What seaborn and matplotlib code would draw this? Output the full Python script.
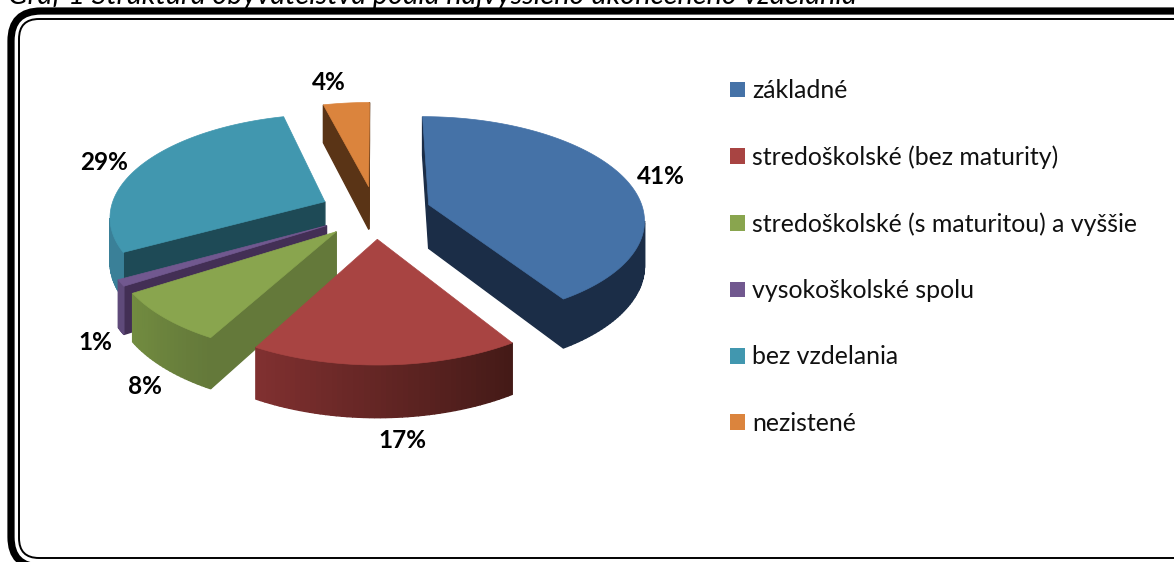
import numpy as np
import matplotlib
matplotlib.use('Agg')
import matplotlib.pyplot as plt
from matplotlib.patches import FancyBboxPatch, Patch
import seaborn as sns

# --- DATA ---
categories = ['základné', 'stredoškolské (bez maturity)', 'stredoškolské (s maturitou) a vyššie',
              'vysokoškolské spolu', 'bez vzdelania', 'nezistené']
shares = [41, 17, 8, 1, 29, 4]
title = 'Graf 1 Štruktúra obyvateľstva podľa najvyššieho ukončeného vzdelania'

# --- STYLE ---
colors = ['#4572A7', '#A84442', '#89A54E', '#71588F', '#4197AF', '#DB843D']
side_colors = ['#1B2D47', '#44191A', '#64793A', '#432F55', '#1E4A56', '#5A3416']
# arc shading runs from the right end of the visible arc to its left end
arc_colors = [('#1B2D47', '#1B2D47'), ('#441A17', '#803030'), ('#64793A', '#728C40'),
              ('#5F4A7A', '#5F4A7A'), ('#3A8098', '#3A8098'), ('#5A3416', '#5A3416')]
draw_order = [5, 4, 3, 2, 0, 1]
label_pos = [(661, 176), (402, 440), (145, 387), (95, 343), (104, 163), (329, 83)]

# projection of the pie plane (screen pixels)
CX, CY = 375.5, 212
A, B, K = 215, 101.4, 0.131
EXPLODE = 0.26
DEPTH = 44

sns.set_theme(style='white')
plt.rcParams['font.family'] = ['Lato', 'DejaVu Sans']


def project(px, py):
    w = 1 / (1 - K * py)
    return CX + A * px * w, CY + B * py * w, DEPTH * w


def side_face(ax, p0, p1, color):
    # only faces turned to the viewer run right to left
    if p1[0] >= p0[0]:
        return
    xs = [p0[0], p1[0], p1[0], p0[0]]
    ys = [p0[1], p1[1], p1[1] + p1[2], p0[1] + p0[2]]
    ax.fill(xs, ys, color=color, lw=1.0)


fig = plt.figure(figsize=(11.74, 5.62), dpi=100)
ax = fig.add_axes([0, 0, 1, 1])
ax.set_xlim(0, 1174)
ax.set_ylim(562, 0)
ax.axis('off')

# frame
ax.add_patch(FancyBboxPatch((11, 11), 1200, 556, boxstyle='round,pad=0,rounding_size=30',
                            fc='white', ec='black', lw=5.2))
ax.add_patch(FancyBboxPatch((19, 19), 1190, 539, boxstyle='round,pad=0,rounding_size=20',
                            fc='none', ec='black', lw=1.4))

# slices
ends = np.cumsum(shares) / np.sum(shares) * 2 * np.pi
starts = np.concatenate([[0], ends[:-1]])
for i in draw_order:
    mid = (starts[i] + ends[i]) / 2
    ox, oy = EXPLODE * np.sin(mid), -EXPLODE * np.cos(mid)
    theta = np.linspace(starts[i], ends[i], max(8, int(shares[i] * 3)))
    arc = [project(ox + np.sin(t), oy - np.cos(t)) for t in theta]
    apex = project(ox, oy)

    side_face(ax, apex, arc[0], side_colors[i])
    shades = sns.blend_palette(arc_colors[i], len(arc) - 1)
    for j in range(len(arc) - 1):
        side_face(ax, arc[j], arc[j + 1], shades[j])
    side_face(ax, arc[-1], apex, side_colors[i])

    ax.fill([apex[0]] + [p[0] for p in arc], [apex[1]] + [p[1] for p in arc],
            color=colors[i], lw=0.5)

for share, (x, y) in zip(shares, label_pos):
    ax.text(x, y, f'{share}%', ha='center', va='center', fontsize=17.5,
            fontweight='bold', color='black')

ax.text(8, 4, title, ha='left', va='baseline', fontsize=20.8, style='italic', color='black')

handles = [Patch(facecolor=c, edgecolor='none', label=n) for c, n in zip(colors, categories)]
ax.legend(handles=handles, loc='upper left', bbox_to_anchor=(0.622, 0.859), frameon=False,
          fontsize=17.9, handlelength=0.6, handleheight=0.6, handletextpad=0.28,
          labelspacing=1.74, borderpad=0, borderaxespad=0, labelcolor='#111111')

fig.savefig('out.png', dpi=100)
